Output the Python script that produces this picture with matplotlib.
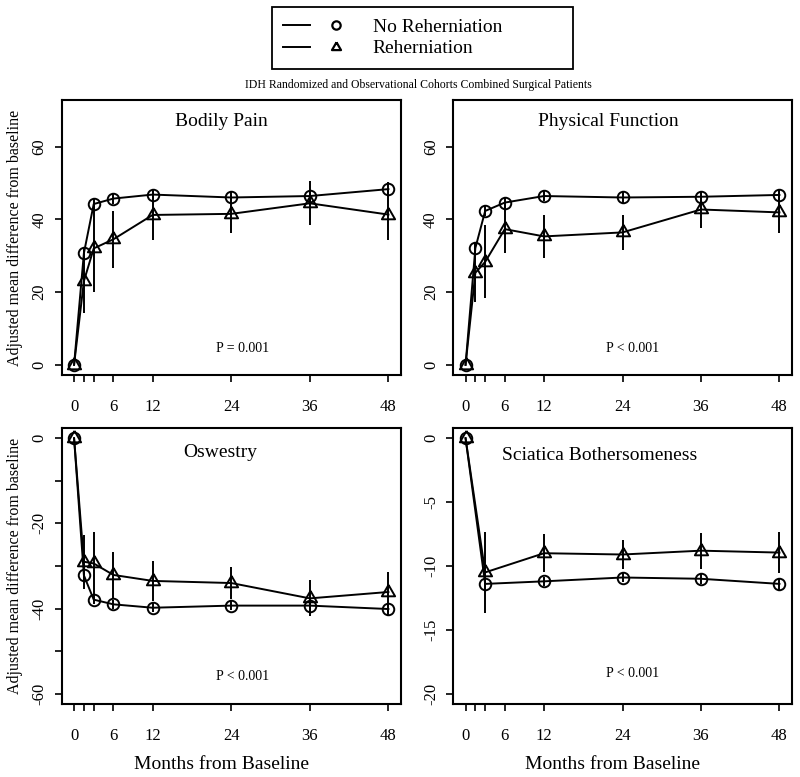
import matplotlib
matplotlib.use('Agg')
import matplotlib.pyplot as plt
from matplotlib.lines import Line2D
from matplotlib.legend_handler import HandlerTuple

plt.rcParams['font.family'] = ['Liberation Serif', 'DejaVu Serif']

# time points (months)
months = [0, 1.5, 3, 6, 12, 24, 36, 48]
months_sb = [0, 3, 12, 24, 36, 48]
tick_pos = [0, 1.5, 3, 6, 12, 24, 36, 48]
tick_lab = ['0', '', '', '6', '12', '24', '36', '48']

# Bodily Pain
bp_no = [0, 30.7, 44.2, 45.7, 46.8, 46.0, 46.4, 48.3]
bp_no_err = [0, 1.5, 1.4, 1.4, 1.4, 1.5, 1.6, 2.0]
bp_re = [0, 23.0, 32.0, 34.5, 41.2, 41.5, 44.4, 41.3]
bp_re_err = [0, 8.7, 12.0, 7.8, 6.9, 5.3, 6.0, 7.0]

# Physical Function
pf_no = [0, 32.1, 42.3, 44.6, 46.4, 46.0, 46.2, 46.7]
pf_no_err = [0, 1.5, 1.4, 1.4, 1.3, 1.4, 1.5, 1.7]
pf_re = [0, 25.3, 28.3, 37.3, 35.3, 36.4, 42.7, 41.9]
pf_re_err = [0, 8.0, 10.0, 6.6, 6.0, 4.7, 5.2, 5.8]

# Oswestry
od_no = [0, -32.2, -37.9, -39.0, -39.8, -39.3, -39.3, -40.1]
od_no_err = [0, 1.2, 1.1, 1.1, 1.1, 1.1, 1.2, 1.4]
od_re = [0, -29.0, -29.4, -32.1, -33.5, -34.0, -37.6, -36.1]
od_re_err = [0, 6.3, 7.4, 5.5, 4.6, 3.8, 4.2, 4.6]

# Sciatica Bothersomeness
sb_no = [0, -11.4, -11.2, -10.9, -11.0, -11.4]
sb_no_err = [0, 0.4, 0.35, 0.35, 0.4, 0.45]
sb_re = [0, -10.5, -9.0, -9.1, -8.8, -8.95]
sb_re_err = [0, 3.2, 1.5, 1.1, 1.4, 1.6]

panels = [
    ('Bodily Pain', 'P = 0.001', months, bp_no, bp_no_err, bp_re, bp_re_err,
     (0, 70), [0, 20, 40, 60], ['0', '20', '40', '60']),
    ('Physical Function', 'P < 0.001', months, pf_no, pf_no_err, pf_re, pf_re_err,
     (0, 70), [0, 20, 40, 60], ['0', '20', '40', '60']),
    ('Oswestry', 'P < 0.001', months, od_no, od_no_err, od_re, od_re_err,
     (-60, 0), [0, -10, -20, -30, -40, -50, -60], ['0', '', '-20', '', '-40', '', '-60']),
    ('Sciatica Bothersomeness', 'P < 0.001', months_sb, sb_no, sb_no_err, sb_re, sb_re_err,
     (-20, 0), [0, -5, -10, -15, -20], ['0', '-5', '-10', '-15', '-20']),
]

# triangle centred on its centroid (like R pch=2)
tri = [(0, 1), (-0.866, -0.5), (0.866, -0.5), (0, 1)]

fig = plt.figure(figsize=(8, 7.77), dpi=100)
W, H = 800, 777
boxes = [(61.5, 100, 339.5, 275), (453, 100, 339, 275),
         (61.5, 428, 339.5, 276), (453, 428, 339, 276)]
title_pos = [(0.472, 0.921), (0.457, 0.92), (0.467, 0.913), (0.432, 0.899)]
p_pos = [(0.532, 0.098), (0.531, 0.098), (0.532, 0.098), (0.531, 0.112)]

for i, (name, ptxt, x, yn, en, yr, er, yl, yt, ytl) in enumerate(panels):
    l, t, w, h = boxes[i]
    ax = fig.add_axes([l / W, 1 - (t + h) / H, w / W, h / H])
    ax.errorbar(x, yr, yerr=er, color='k', lw=1.4, elinewidth=1.4, capsize=0,
                marker=tri, ms=11, mfc='none', mec='k', mew=1.4)
    ax.errorbar(x, yn, yerr=en, color='k', lw=1.4, elinewidth=1.4, capsize=0,
                marker='o', ms=8.3, mfc='none', mec='k', mew=1.4)
    pad = 0.04 * (yl[1] - yl[0])
    ax.set_ylim(yl[0] - pad, yl[1] + pad)
    ax.set_xlim(-1.92, 49.92)
    ax.set_xticks(tick_pos)
    ax.set_xticklabels(tick_lab)
    ax.set_yticks(yt)
    ax.set_yticklabels(ytl)
    ax.tick_params(axis='both', direction='out', length=5, width=1.2, labelsize=12)
    ax.tick_params(axis='x', pad=12.5)
    ax.tick_params(axis='y', pad=5, labelrotation=90)
    for lab in ax.get_yticklabels():
        lab.set_verticalalignment('center')
    for s in ax.spines.values():
        s.set_linewidth(1.5)
    ax.text(title_pos[i][0], title_pos[i][1], name, transform=ax.transAxes,
            ha='center', va='center', fontsize=14)
    ax.text(p_pos[i][0], p_pos[i][1], ptxt, transform=ax.transAxes,
            ha='center', va='center', fontsize=10)
    if i in (0, 2):
        ax.set_ylabel('Adjusted mean difference from baseline', fontsize=11.5)
        ax.yaxis.set_label_coords(-0.113, 0.5)
    if i in (2, 3):
        ax.set_xlabel('Months from Baseline', fontsize=14)
        ax.xaxis.set_label_coords(0.47, -0.19)

fig.text(418 / W, 1 - 85 / H,
         'IDH Randomized and Observational Cohorts Combined Surgical Patients',
         ha='center', va='center', fontsize=8.5)

line_h = Line2D([], [], color='k', lw=1.4)
circ_h = Line2D([], [], ls='none', marker='o', ms=6, mfc='none', mec='k', mew=1.6)
tri_h = Line2D([], [], ls='none', marker=tri, ms=7.5, mfc='none', mec='k', mew=1.6)
fig.legend([(line_h, circ_h), (line_h, tri_h)], ['No Reherniation', 'Reherniation'],
           handler_map={tuple: HandlerTuple(ndivide=None, pad=0.65)},
           loc='upper left', bbox_to_anchor=(272 / W, 1 - 68 / H, 301 / W, 61 / H),
           mode='expand', borderaxespad=0, fontsize=14, handlelength=3.4,
           handletextpad=1.2, labelspacing=0.2, borderpad=0.58, fancybox=False,
           edgecolor='k', framealpha=1).get_frame().set_linewidth(1.3)

fig.savefig('out.png', dpi=100)
